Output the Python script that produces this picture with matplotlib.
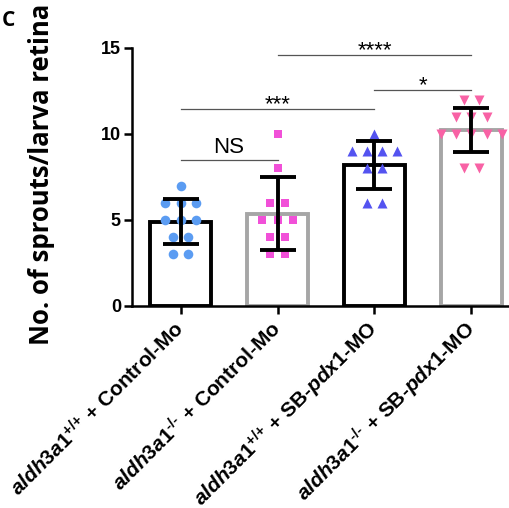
import numpy as np
import matplotlib as mpl
import matplotlib.pyplot as plt

mpl.rcParams.update({
    'font.family': 'Liberation Sans',
    'font.weight': 'bold',
    'mathtext.fontset': 'custom',
    'mathtext.rm': 'Liberation Sans:bold',
    'mathtext.it': 'Liberation Sans:italic:bold',
    'mathtext.bf': 'Liberation Sans:bold',
})

# group labels
groups = [r'$\mathit{aldh3a1}^{\text{+/+}}$ + Control-Mo',
          r'$\mathit{aldh3a1}^{\text{-/-}}$ + Control-Mo',
          r'$\mathit{aldh3a1}^{\text{+/+}}$ + SB-$\mathit{pdx1}$-MO',
          r'$\mathit{aldh3a1}^{\text{-/-}}$ + SB-$\mathit{pdx1}$-MO']

# sprouts per larva retina, one value per larva
ctrl_wt = [7, 6, 6, 6, 5, 5, 5, 4, 4, 3, 3]
ctrl_ko = [10, 8, 6, 6, 5, 5, 5, 4, 4, 3, 3]
pdx_wt = [10, 9, 9, 9, 9, 8, 8, 6, 6]
pdx_ko = [12, 12, 11, 11, 11, 10, 10, 10, 10, 10, 8, 8]

# significance brackets
sig_pairs = [(0, 1), (0, 2), (2, 3), (1, 3)]
sig_heights = [8.5, 11.45, 12.56, 14.6]
sig_labels = ['NS', '***', '*', '****']

data = [ctrl_wt, ctrl_ko, pdx_wt, pdx_ko]
means = [np.mean(d) for d in data]
sds = [np.std(d, ddof=1) for d in data]
x = np.arange(len(data))

edge_cols = ['black', '#a6a6a6', 'black', '#a6a6a6']
pt_cols = ['#5b9cf2', '#f150d8', '#5453f0', '#f862a5']
markers = ['o', 's', '^', 'v']
msizes = [48, 36, 52, 52]

fig = plt.figure(figsize=(5.1, 5.08), dpi=100)
ax = fig.add_axes([132/510, 1-306/508, 388/510, 258/508])

ax.bar(x, means, width=0.62, color='white', edgecolor=edge_cols,
       linewidth=2.8, zorder=1)

#scatter the points in rows, one row per value
step = 0.155
for i, d in enumerate(data):
    d = np.array(d)
    xs = np.zeros(len(d))
    for v in np.unique(d):
        idx = np.where(d == v)[0]
        xs[idx] = (np.arange(len(idx)) - (len(idx)-1)/2.0)*step
    ax.scatter(x[i] + xs, d, marker=markers[i], s=msizes[i], color=pt_cols[i],
               linewidths=0, zorder=3)

ax.errorbar(x, means, yerr=sds, fmt='none', ecolor='black', elinewidth=2.8,
            capsize=13, capthick=2.8, zorder=4)

for (a, b), h, lab in zip(sig_pairs, sig_heights, sig_labels):
    ax.plot([x[a], x[b]], [h, h], color='#555555', lw=0.9, clip_on=False, zorder=2)
    if lab == 'NS':
        ax.text((x[a]+x[b])/2.0, h+0.4, lab, ha='center', va='baseline',
                fontsize=16, fontweight='normal')
    else:
        ax.text((x[a]+x[b])/2.0, h-0.05, lab, ha='center', va='baseline',
                fontsize=16, fontweight='normal')

ax.set_xlim(-0.5, 3.5)
ax.set_ylim(0, 15)
ax.set_yticks([0, 5, 10, 15])
ax.set_xticks(x)
ax.set_xticklabels(groups, rotation=45, ha='right', va='center',
                   rotation_mode='anchor', fontsize=15)
ax.tick_params(axis='y', length=6, width=1.8, labelsize=13, pad=2)
ax.tick_params(axis='x', length=6, width=1.8, pad=8)

ax.spines['top'].set_visible(False)
ax.spines['right'].set_visible(False)
ax.spines['left'].set_linewidth(1.8)
ax.spines['bottom'].set_linewidth(1.8)

fig.text(42/510, 1-174/508, 'No. of sprouts/larva retina', rotation=90,
         ha='center', va='center', fontsize=18.5, fontweight='bold',
         family='Open Sans')
fig.text(2/510, 1-21/508, 'C', ha='left', va='center', fontsize=15,
         fontweight='bold', family='Open Sans')

fig.savefig('out.png', dpi=100)
